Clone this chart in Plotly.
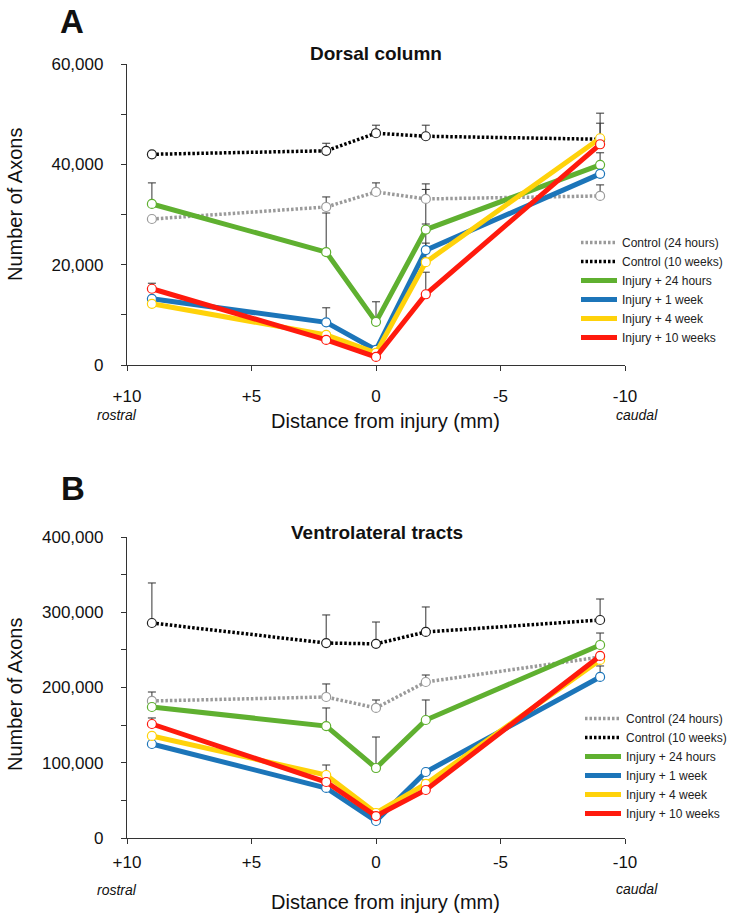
import plotly.graph_objects as go

# ---------------- data ----------------
distance = [9, 2, 0, -2, -9]
x_tickvals = [10, 5, 0, -5, -10]
x_ticktext = ["+10", "+5", "0", "-5", "-10"]

series_names = ["Control (24 hours)", "Control (10 weeks)", "Injury + 24 hours",
                "Injury + 1 week", "Injury + 4 week", "Injury + 10 weeks"]

# Panel A: Dorsal column
dorsal_ctrl24 = [29100, 31500, 34500, 33100, 33700]
dorsal_ctrl10 = [42000, 42700, 46200, 45600, 45000]
dorsal_inj24 = [32100, 22500, 8600, 27000, 39900]
dorsal_inj1w = [13200, 8500, 3000, 22900, 38100]
dorsal_inj4w = [12200, 6000, 2400, 20500, 45200]
dorsal_inj10w = [15200, 5000, 1600, 14100, 44000]

dorsal_ctrl24_err = [None, 2000, 1800, 3000, 2200]
dorsal_ctrl10_err = [500, 1500, 1600, 2200, None]
dorsal_inj24_err = [4200, 7800, 4000, 8000, 2400]
dorsal_inj1w_err = [None, 2900, None, 1400, None]
dorsal_inj4w_err = [None, 400, None, 7600, 5000]
dorsal_inj10w_err = [1100, None, None, 4400, 4200]

# Panel B: Ventrolateral tracts
vl_ctrl24 = [182100, 187400, 172800, 207300, 240500]
vl_ctrl10 = [285700, 259100, 258000, 273800, 289700]
vl_inj24 = [174100, 148800, 93000, 156800, 256500]
vl_inj1w = [124900, 66500, 22600, 87700, 214000]
vl_inj4w = [135600, 83700, 33200, 71800, 236600]
vl_inj10w = [151500, 74400, 29200, 63800, 241900]

vl_ctrl24_err = [11900, 17300, 10600, 9300, None]
vl_ctrl10_err = [53200, 37300, 29000, 33200, 27900]
vl_inj24_err = [None, 24000, 41200, 26600, 15900]
vl_inj1w_err = [None, None, None, None, 14600]
vl_inj4w_err = [None, 13300, 4000, 5300, None]
vl_inj10w_err = [8000, None, None, None, None]

# ---------------- styles ----------------
colors = ["#9a9a9a", "#000000", "#5fb030", "#1c75b9", "#ffd20a", "#ff1a0d"]
dashes = ["2.5px,2px", "2.5px,2px", "solid", "solid", "solid", "solid"]
widths = [3.5, 3.5, 5, 5, 5, 5]
FONT = "Liberation Sans, Arial, sans-serif"

W, H = 733, 917


def px(x):
    return x / W


def py(y):
    return 1 - y / H


fig = go.Figure()

panels = [
    dict(vals=[dorsal_ctrl24, dorsal_ctrl10, dorsal_inj24, dorsal_inj1w, dorsal_inj4w, dorsal_inj10w],
         errs=[dorsal_ctrl24_err, dorsal_ctrl10_err, dorsal_inj24_err, dorsal_inj1w_err,
               dorsal_inj4w_err, dorsal_inj10w_err],
         xa="x", ya="y", legend="legend"),
    dict(vals=[vl_ctrl24, vl_ctrl10, vl_inj24, vl_inj1w, vl_inj4w, vl_inj10w],
         errs=[vl_ctrl24_err, vl_ctrl10_err, vl_inj24_err, vl_inj1w_err, vl_inj4w_err, vl_inj10w_err],
         xa="x2", ya="y2", legend="legend2"),
]

for p in panels:
    # error bars underneath everything
    for vals, errs in zip(p["vals"], p["errs"]):
        fig.add_trace(go.Scatter(
            x=distance, y=vals, mode="markers", xaxis=p["xa"], yaxis=p["ya"],
            marker=dict(size=1, opacity=0), showlegend=False, hoverinfo="skip",
            error_y=dict(type="data", symmetric=False, array=errs,
                         arrayminus=[0 if e is not None else None for e in errs],
                         color="#333333", thickness=1, width=4)))
    for name, vals, c, d, w in zip(series_names, p["vals"], colors, dashes, widths):
        fig.add_trace(go.Scatter(
            x=distance, y=vals, mode="lines", name=name,
            xaxis=p["xa"], yaxis=p["ya"], legend=p["legend"],
            line=dict(color=c, width=w, dash=d)))
        fig.add_trace(go.Scatter(
            x=distance, y=vals, mode="markers", name=name, showlegend=False,
            xaxis=p["xa"], yaxis=p["ya"],
            marker=dict(symbol="circle", size=9, color="white",
                        line=dict(color=c if c != "#000000" else "#222222", width=1.2))))

axis_common = dict(showline=True, linecolor="#333333", linewidth=1.3, ticks="outside",
                   ticklen=5, tickcolor="#333333", showgrid=False, zeroline=False,
                   automargin=False,
                   tickfont=dict(family=FONT, size=17, color="#111111"))

xdomain = [px(127), px(625)]
fig.update_layout(
    width=W, height=H, margin=dict(l=0, r=0, t=0, b=0, autoexpand=False),
    paper_bgcolor="white", plot_bgcolor="white",
    font=dict(family=FONT, color="#111111"),
    xaxis=dict(domain=xdomain, range=[10, -10], tickvals=x_tickvals, ticktext=x_ticktext,
               anchor="y", ticklabelstandoff=10, **axis_common),
    yaxis=dict(domain=[py(365), py(64)], range=[0, 60000], dtick=20000,
               tickformat=",", anchor="x", ticklabelstandoff=14,
               minor=dict(dtick=10000, ticks="outside", ticklen=5, tickcolor="#333333"),
               **axis_common),
    xaxis2=dict(domain=xdomain, range=[10, -10], tickvals=x_tickvals, ticktext=x_ticktext,
                anchor="y2", ticklabelstandoff=3, **axis_common),
    yaxis2=dict(domain=[py(838), py(537)], range=[0, 400000], dtick=100000,
                tickformat=",", anchor="x2", ticklabelstandoff=14,
                minor=dict(dtick=50000, ticks="outside", ticklen=5, tickcolor="#333333"),
                **axis_common),
    legend=dict(x=px(576), y=py(228), xanchor="left", yanchor="top",
                bgcolor="rgba(0,0,0,0)", font=dict(family=FONT, size=12, color="#222222"),
                itemwidth=36, tracegroupgap=0),
    legend2=dict(x=px(580), y=py(704), xanchor="left", yanchor="top",
                 bgcolor="rgba(0,0,0,0)", font=dict(family=FONT, size=12, color="#222222"),
                 itemwidth=36, tracegroupgap=0),
)


def ann(text, x, y, size, bold=False, italic=False, angle=0):
    t = text
    if bold:
        t = "<b>" + t + "</b>"
    if italic:
        t = "<i>" + t + "</i>"
    fig.add_annotation(text=t, x=px(x), y=py(y), xref="paper", yref="paper",
                       showarrow=False, xanchor="center", yanchor="middle", textangle=angle,
                       font=dict(family=FONT, size=size, color="#111111"))


# panel letters and titles
ann("A", 72, 21, 33, bold=True)
ann("B", 73, 488, 33, bold=True)
ann("Dorsal column", 376, 53, 19, bold=True)
ann("Ventrolateral tracts", 377, 532, 19, bold=True)
# axis titles
ann("Number of Axons", 15, 205, 20, angle=-90)
ann("Number of Axons", 15, 695, 20, angle=-90)
ann("Distance from injury (mm)", 385, 421, 20)
ann("Distance from injury (mm)", 385, 902, 20)
ann("rostral", 117, 415, 14, italic=True)
ann("caudal", 637, 415, 14, italic=True)
ann("rostral", 117, 890, 14, italic=True)
ann("caudal", 637, 889, 14, italic=True)

fig.write_html("out.html", config={"displayModeBar": False},
               post_script="document.body.style.margin='0';")
